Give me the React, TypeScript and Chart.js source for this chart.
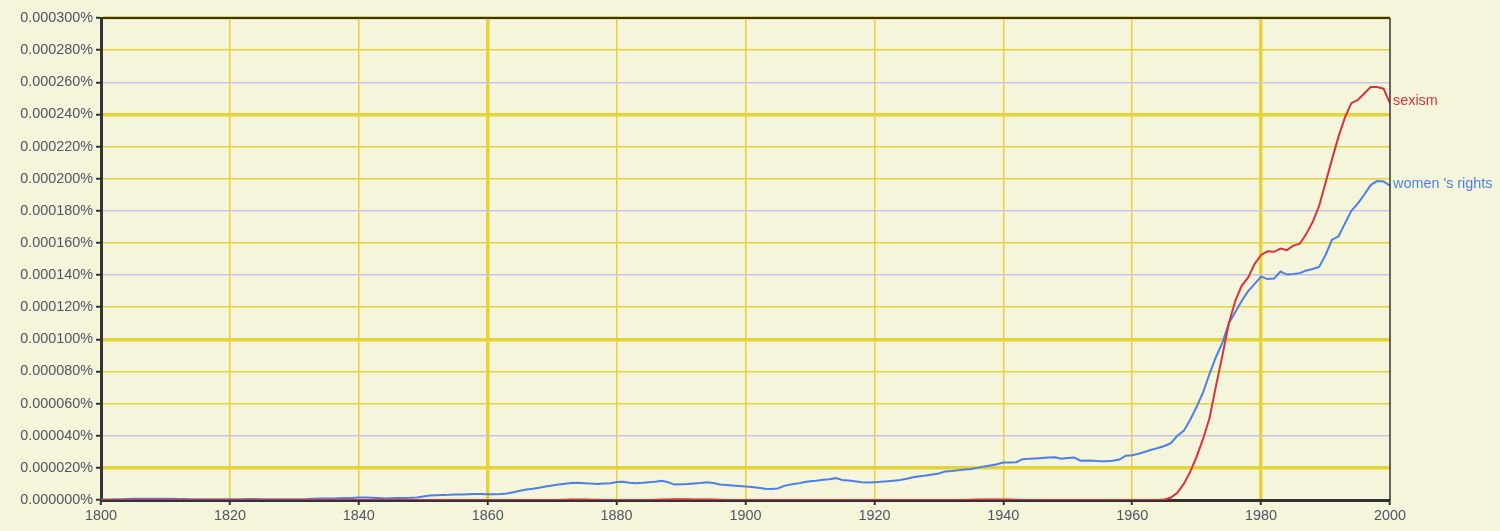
import { useEffect, useRef } from 'react'
import { Chart, registerables } from 'chart.js'
import type { Plugin } from 'chart.js'

Chart.register(...registerables)

// years 1800..2000, one value per year, unit = 1e-6 %
const years: number[] = Array.from({ length: 201 }, (_, i) => 1800 + i)

const womensRights: number[] = [
  0.3, 0.3, 0.4, 0.5, 0.7, 0.8, 0.8, 0.8, 0.8, 0.8, // 1800
  0.8, 0.8, 0.7, 0.6, 0.5, 0.4, 0.4, 0.4, 0.4, 0.4, // 1810
  0.4, 0.4, 0.5, 0.6, 0.6, 0.5, 0.4, 0.4, 0.4, 0.4, // 1820
  0.5, 0.5, 0.6, 0.8, 0.9, 1.0, 1.0, 1.1, 1.2, 1.3, // 1830
  1.5, 1.5, 1.4, 1.2, 1.0, 1.1, 1.2, 1.3, 1.4, 1.6, // 1840
  2.2, 2.8, 3.0, 3.1, 3.2, 3.4, 3.5, 3.6, 3.7, 3.7, // 1850
  3.6, 3.6, 3.8, 4.1, 4.8, 5.8, 6.6, 7.0, 7.6, 8.4, // 1860
  9.0, 9.6, 10.1, 10.6, 10.7, 10.5, 10.2, 10.0, 10.2, 10.4, // 1870
  11.2, 11.3, 10.8, 10.5, 10.7, 11.0, 11.3, 12.0, 11.0, 9.6, // 1880
  9.8, 10.0, 10.3, 10.6, 11.0, 10.6, 9.6, 9.3, 9.0, 8.7, // 1890
  8.4, 8.1, 7.6, 7.0, 6.8, 7.2, 8.8, 9.6, 10.2, 11.0, // 1900
  11.6, 12.0, 12.6, 12.9, 13.6, 12.4, 12.1, 11.6, 11.0, 10.9, // 1910
  11.1, 11.3, 11.6, 12.0, 12.4, 13.2, 14.2, 14.8, 15.3, 15.9, // 1920
  16.5, 17.8, 18.1, 18.5, 19.0, 19.3, 20.0, 20.8, 21.5, 22.2, // 1930
  23.3, 23.4, 23.5, 25.4, 25.6, 25.9, 26.2, 26.5, 26.6, 25.7, // 1940
  26.1, 26.4, 24.5, 24.6, 24.4, 24.1, 24.1, 24.5, 25.2, 27.6, // 1950
  27.9, 28.8, 30.0, 31.3, 32.4, 33.6, 35.4, 40.0, 43.0, 50.0, // 1960
  58.0, 67.0, 78.5, 89.0, 98.0, 110.0, 117.0, 124.0, 130.0, 134.5, // 1970
  139.0, 137.5, 137.8, 142.2, 140.3, 140.6, 141.2, 142.8, 143.8, 145.0, // 1980
  152.5, 162.0, 164.0, 172.0, 180.0, 184.5, 190.0, 196.0, 198.5, 198.3, // 1990
  195.6, // 2000
]

const sexism: number[] = [
  0, 0, 0, 0, 0, 0, 0, 0, 0, 0, // 1800
  0, 0, 0, 0, 0, 0, 0, 0, 0, 0, // 1810
  0, 0, 0, 0, 0, 0, 0, 0, 0, 0, // 1820
  0, 0, 0, 0, 0, 0, 0, 0, 0, 0, // 1830
  0, 0, 0, 0, 0, 0, 0, 0, 0, 0, // 1840
  0, 0, 0, 0, 0, 0, 0, 0, 0, 0, // 1850
  0, 0, 0, 0, 0, 0, 0, 0, 0, 0, // 1860
  0, 0, 0.2, 0.3, 0.3, 0.3, 0.2, 0.1, 0, 0, // 1870
  0, 0, 0, 0, 0, 0, 0.2, 0.3, 0.3, 0.4, // 1880
  0.4, 0.4, 0.3, 0.3, 0.3, 0.3, 0.2, 0, 0, 0, // 1890
  0, 0, 0, 0, 0, 0, 0, 0, 0, 0, // 1900
  0, 0, 0, 0, 0, 0, 0, 0, 0, 0, // 1910
  0, 0, 0, 0, 0, 0, 0, 0, 0, 0, // 1920
  0, 0, 0, 0, 0, 0.2, 0.3, 0.3, 0.3, 0.3, // 1930
  0.3, 0.3, 0.2, 0, 0, 0, 0, 0, 0, 0, // 1940
  0, 0, 0, 0, 0, 0, 0, 0, 0, 0, // 1950
  0, 0, 0, 0, 0, 0.3, 1.5, 4.5, 10.0, 17.5, // 1960
  27.0, 38.0, 51.0, 71.0, 90.0, 110.0, 124.0, 133.5, 138.5, 147.0, // 1970
  152.5, 154.8, 154.5, 156.5, 155.5, 158.3, 159.5, 165.5, 173.0, 183.0, // 1980
  197.5, 212.0, 226.0, 238.0, 247.0, 249.0, 253.0, 257.0, 257.0, 256.0, // 1990
  247.0, // 2000
]

const seriesNames = ['sexism', "women 's rights"]
const seriesColors = ['#d8333b', '#4d7fe6']

const thickYTicks = [20, 100, 240]
const lavenderYTicks = [40, 140, 180, 260]
const thickXTicks = [1860, 1980]

const BG = '#f5f5dc'
const YELLOW = '#e6d33a'
const LAVENDER = '#cbc4e4'
const AXIS = '#333'
const TEXT = '#4d5661'
const FONT = "'Liberation Sans', Arial, sans-serif"

const framePlugin: Plugin<'line'> = {
  id: 'frame',
  beforeDraw(chart) {
    const c = chart.ctx
    c.save()
    c.fillStyle = BG
    c.fillRect(0, 0, chart.width, chart.height)
    c.restore()
  },
  afterDatasetsDraw(chart) {
    const c = chart.ctx
    const { left, right, top, bottom } = chart.chartArea
    c.save()
    c.strokeStyle = AXIS
    c.lineWidth = 2
    c.beginPath(); c.moveTo(left, top); c.lineTo(right, top); c.stroke()
    c.lineWidth = 1.5
    c.beginPath(); c.moveTo(right, top); c.lineTo(right, bottom + 1); c.stroke()
    // series labels at the end of each line
    c.font = '14.4px ' + FONT
    c.textAlign = 'left'
    c.textBaseline = 'middle'
    chart.data.datasets.forEach((ds, i) => {
      const meta = chart.getDatasetMeta(i)
      const last = meta.data[meta.data.length - 1]
      if (!last) return
      c.fillStyle = seriesColors[i]
      c.fillText(String(ds.label), right + 3, last.y - 2)
    })
    c.restore()
  },
}

export default function App() {
  const canvasRef = useRef<HTMLCanvasElement>(null)
  const chartRef = useRef<Chart | null>(null)

  useEffect(() => {
    document.body.style.margin = '0'
    document.body.style.background = BG
    if (!canvasRef.current) return
    if (chartRef.current) { chartRef.current.destroy(); chartRef.current = null }

    chartRef.current = new Chart(canvasRef.current, {
      type: 'line',
      data: {
        datasets: [
          {
            label: seriesNames[0],
            data: years.map((y, i) => ({ x: y, y: sexism[i] })),
            borderColor: seriesColors[0], backgroundColor: seriesColors[0],
            borderWidth: 2, pointRadius: 0, tension: 0, fill: false,
          },
          {
            label: seriesNames[1],
            data: years.map((y, i) => ({ x: y, y: womensRights[i] })),
            borderColor: seriesColors[1], backgroundColor: seriesColors[1],
            borderWidth: 2, pointRadius: 0, tension: 0, fill: false,
          },
        ],
      },
      options: {
        responsive: true, maintainAspectRatio: false, animation: false,
        layout: { padding: { top: 18, right: 110, left: 0, bottom: 0 } },
        plugins: { legend: { display: false }, tooltip: { enabled: false } },
        scales: {
          x: {
            type: 'linear', min: 1800, max: 2000,
            afterFit: (s) => { s.height = 31 },
            border: { color: AXIS, width: 3 },
            ticks: { stepSize: 20, color: TEXT, font: { family: FONT, size: 14.4 }, padding: 2, maxRotation: 0, callback: (v) => String(v) },
            grid: {
              color: (ctx) => {
                const v = ctx.tick?.value
                if (v === 1800 || v === 2000) return 'rgba(0,0,0,0)'
                return YELLOW
              },
              lineWidth: (ctx) => (thickXTicks.includes(ctx.tick?.value) ? 3.5 : 1.5),
              tickColor: AXIS, tickWidth: 2, tickLength: 5,
            },
          },
          y: {
            min: 0, max: 300,
            afterFit: (s) => { s.width = 101 },
            border: { color: AXIS, width: 3 },
            ticks: { stepSize: 20, color: TEXT, font: { family: FONT, size: 14.4 }, padding: 3, callback: (v) => (Number(v) / 1e6).toFixed(6) + '%' },
            grid: {
              color: (ctx) => {
                const v = ctx.tick?.value
                if (v === 0) return 'rgba(0,0,0,0)'
                return lavenderYTicks.includes(v) ? LAVENDER : YELLOW
              },
              lineWidth: (ctx) => (thickYTicks.includes(ctx.tick?.value) || ctx.tick?.value === 300 ? 3.5 : 1.5),
              tickColor: AXIS, tickWidth: 2, tickLength: 5,
            },
          },
        },
      },
      plugins: [framePlugin],
    })

    return () => { chartRef.current?.destroy(); chartRef.current = null }
  }, [])

  return (
    <div style={{ position: 'relative', width: 1500, height: 531, background: BG }}>
      <canvas ref={canvasRef} />
    </div>
  )
}
